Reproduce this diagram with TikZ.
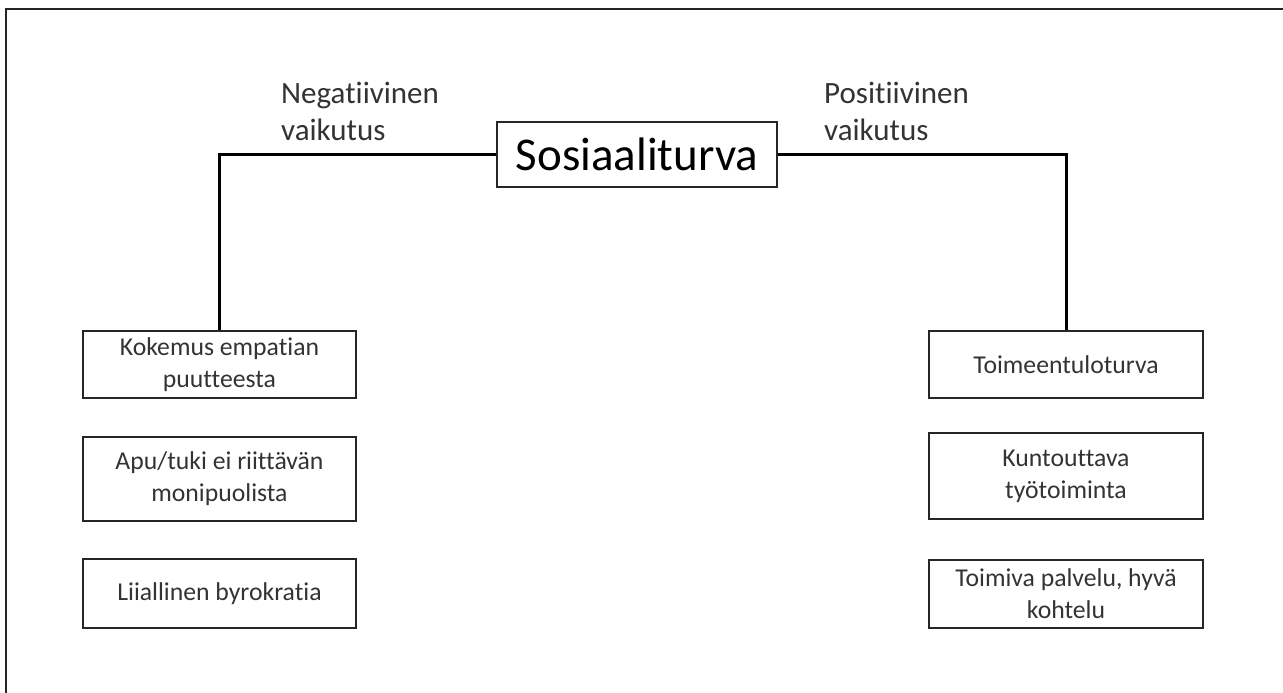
\documentclass[tikz,border=0pt]{standalone}
\usepackage{fontspec}
\setmainfont{Carlito}[Ligatures=NoCommon]
\begin{document}
\begin{tikzpicture}[x=1pt,y=-1pt,
  frameline/.style={line width=2pt,black!85},
  conn/.style={line width=3pt,black},
  itembox/.style={draw=black!85,line width=1.8pt,align=center,inner sep=2pt,
    text=black!80,font=\fontsize{25.7}{32}\selectfont},
  mainbox/.style={draw=black!85,line width=1.8pt,minimum width=280pt,minimum height=65pt,
    inner sep=0pt,font=\fontsize{47}{56}\selectfont,text=black},
  effect/.style={align=left,inner sep=0pt,anchor=base west,text=black!80,
    font=\fontsize{31}{37}\selectfont}]
\useasboundingbox (0,0) rectangle (1283,693);
\draw[frameline] (6,693) -- (6,9) -- (1283,9);
\node[mainbox] (soc) at (637,154.5) {Sosiaaliturva};
\node[effect] (neg) at (281,140) {Negatiivinen\\vaikutus};
\node[effect] (pos) at (824,140) {Positiivinen\\vaikutus};
\node[itembox,minimum width=273pt,minimum height=67pt] (k1) at (219.5,364.5) {Kokemus empatian\\puutteesta};
\node[itembox,minimum width=273pt,minimum height=84pt] (k2) at (219.5,479) {Apu/tuki ei riittävän\\monipuolista};
\node[itembox,minimum width=273pt,minimum height=69pt] (k3) at (219.5,593.5) {Liiallinen byrokratia};
\node[itembox,minimum width=274pt,minimum height=67pt] (t1) at (1066,364.5) {Toimeentuloturva};
\node[itembox,minimum width=274pt,minimum height=86pt] (t2) at (1066,476) {Kuntouttava\\työtoiminta};
\node[itembox,minimum width=274pt,minimum height=68pt] (t3) at (1066,594) {Toimiva palvelu, hyvä\\kohtelu};
\draw[conn] (soc.west) -| (k1.north);
\draw[conn] (soc.east) -| (t1.north);
\end{tikzpicture}
\end{document}
